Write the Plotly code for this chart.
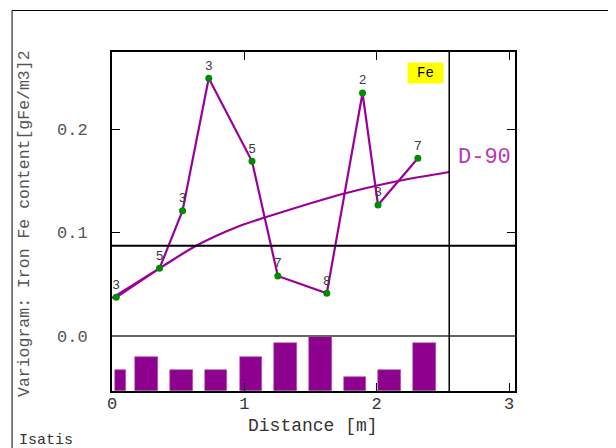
import plotly.graph_objects as go

# ---- data ----
pair_counts = [3, 5, 3, 3, 5, 7, 8, 2, 3, 7]
lag_dist = [0.032, 0.359, 0.533, 0.731, 1.058, 1.253, 1.623, 1.893, 2.010, 2.311]
gamma = [0.0374, 0.0654, 0.1211, 0.2490, 0.1688, 0.0580, 0.0413, 0.2348, 0.1266, 0.1717]
model_dist = [0.0, 0.359, 0.636, 0.963, 1.16, 1.764, 2.172, 2.548]
model_gamma = [0.0367, 0.0654, 0.0872, 0.1063, 0.1147, 0.1379, 0.150, 0.1585]
lag = 0.2623
variance = 0.0872
max_dist = 2.548
x_ticks = [0, 1, 2, 3]
y_ticks = [0.0, 0.1, 0.2]
y_title = "Variogram: Iron Fe content[gFe/m3]2"
x_title = "Distance [m]"
model_name = "D-90"
var_name = "Fe"
footer = "Isatis"

# ---- styling ----
PURPLE = "#990099"
BAR = "#8e008e"
GREEN = "#008a00"
MONO = "Liberation Mono, Courier New, monospace"
X_RANGE = [0, 3.045]
Y_RANGE = [-0.0531, 0.2744]

# histogram bins: first bin is half a lag
bin_lo = [max(0.0, (k - 0.5) * lag) for k in range(len(pair_counts))]
bin_hi = [(k + 0.5) * lag for k in range(len(pair_counts))]
bar_x = [(a + b) / 2 for a, b in zip(bin_lo, bin_hi)]
bar_w = [0.65 * (b - a) for a, b in zip(bin_lo, bin_hi)]
hist_frac = -Y_RANGE[0] / (Y_RANGE[1] - Y_RANGE[0])
y2_range = [0, max(pair_counts) / hist_frac]

fig = go.Figure()

fig.add_trace(go.Bar(
    x=bar_x, y=pair_counts, width=bar_w, yaxis="y2",
    marker=dict(color=BAR, line=dict(color="#b060b0", width=0.6)),
    showlegend=False, hoverinfo="skip"))

fig.add_trace(go.Scatter(
    x=model_dist, y=model_gamma, mode="lines",
    line=dict(color=PURPLE, width=2.2, shape="spline", smoothing=0.9),
    showlegend=False, hoverinfo="skip"))

fig.add_trace(go.Scatter(
    x=lag_dist, y=gamma, mode="lines+markers+text",
    text=[str(c) for c in pair_counts], textposition="top center",
    textfont=dict(family="Liberation Sans, Arial, sans-serif", size=13, color="#3a3a3a"),
    line=dict(color=PURPLE, width=2.2),
    marker=dict(color=GREEN, size=7),
    showlegend=False, hoverinfo="skip"))

axis_common = dict(
    showline=True, linecolor="black", linewidth=2, mirror="ticks",
    ticks="inside", ticklen=8, tickwidth=1.2, tickcolor="black",
    showgrid=False, zeroline=False,
)

# the page body adds an 8px offset, so the figure is 8px smaller
fig.update_layout(
    width=608, height=440,
    margin=dict(l=104, r=101, t=44, b=57),
    paper_bgcolor="white", plot_bgcolor="white",
    xaxis=dict(range=X_RANGE, tickvals=x_ticks, ticktext=[str(t) for t in x_ticks],
               ticklabelstandoff=-4,
               tickfont=dict(family=MONO, size=17, color="#333333"), **axis_common),
    yaxis=dict(range=Y_RANGE, tickvals=y_ticks, tickformat=".1f",
               ticklabelstandoff=19,
               tickfont=dict(family=MONO, size=17, color="#555555"), **axis_common),
    yaxis2=dict(range=y2_range, overlaying="y", visible=False, showgrid=False, zeroline=False),
    bargap=0,
    shapes=[
        dict(type="line", xref="paper", yref="y", x0=0, x1=1, y0=0, y1=0,
             line=dict(color="#666666", width=2), layer="above"),
        dict(type="line", xref="paper", yref="y", x0=0, x1=1, y0=variance, y1=variance,
             line=dict(color="black", width=2), layer="above"),
        dict(type="line", xref="x", yref="paper", x0=max_dist, x1=max_dist, y0=0, y1=1,
             line=dict(color="black", width=1.5), layer="above"),
        dict(type="rect", xref="paper", yref="paper", x0=-0.248, x1=1.248, y0=-0.25, y1=1.1224,
             line=dict(color="black", width=1), fillcolor="rgba(0,0,0,0)", layer="below"),
    ],
    annotations=[
        dict(text=y_title, xref="paper", yref="paper", x=-0.2159, y=0.4956,
             textangle=-90, showarrow=False, xanchor="center", yanchor="middle",
             font=dict(family=MONO, size=16.5, color="#555555")),
        dict(text=x_title, xref="paper", yref="paper", x=0.4988, y=-0.104,
             showarrow=False, xanchor="center", yanchor="middle",
             font=dict(family=MONO, size=18, color="#333333")),
        dict(text=model_name, xref="paper", yref="paper", x=0.924, y=0.688,
             showarrow=False, xanchor="center", yanchor="middle",
             font=dict(family=MONO, size=22, color="#b838b8")),
        dict(text=var_name, xref="paper", yref="paper", x=0.7767, y=0.939,
             showarrow=False, xanchor="center", yanchor="middle",
             width=33, height=18, bgcolor="#ffff00", borderpad=1,
             font=dict(family=MONO, size=14, color="black")),
        dict(text=footer, xref="paper", yref="paper", x=-0.2357, y=-0.146,
             showarrow=False, xanchor="left", yanchor="middle",
             font=dict(family=MONO, size=15, color="#333333")),
    ],
)

fig.write_html("out.html")
